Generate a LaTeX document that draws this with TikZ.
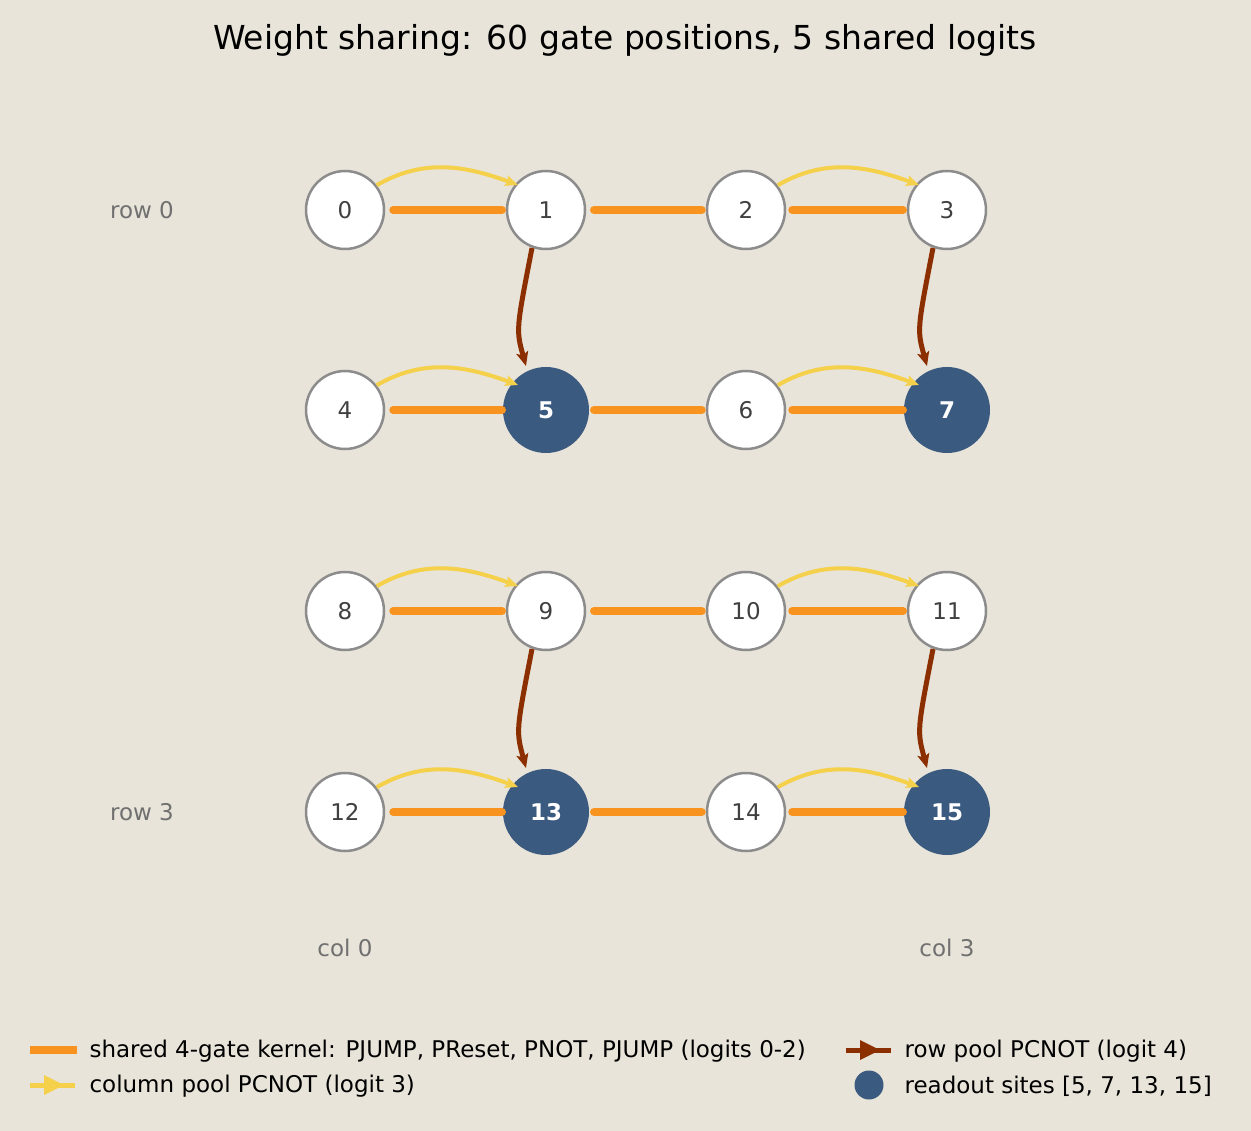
\documentclass[tikz,border=0pt]{standalone}
\usepackage{fontspec}
\setmainfont{DejaVu Sans}
\usetikzlibrary{arrows.meta}
\definecolor{bg}{HTML}{E8E4D9}
\definecolor{kern}{HTML}{F7931E}
\definecolor{colp}{HTML}{F5D04A}
\definecolor{rowp}{HTML}{8B2E00}
\definecolor{ro}{HTML}{3B5A80}
\definecolor{ring}{HTML}{8C8C8C}
\definecolor{lab}{HTML}{707070}
\begin{document}
\begin{tikzpicture}[x=1pt,y=-1pt,
  site/.style={circle,draw=ring,line width=2.5pt,fill=white,minimum size=78pt,inner sep=0pt,font=\fontsize{23}{27}\selectfont,text=black!75},
  rsite/.style={circle,fill=ro,minimum size=86pt,inner sep=0pt,font=\fontsize{23}{27}\selectfont\bfseries,text=white},
  kl/.style={kern,line width=8pt,line cap=round},
  cl/.style={colp,line width=4pt,-{Stealth[length=13pt,width=11pt,inset=3pt]}},
  rl/.style={rowp,line width=5pt,-{Stealth[length=14pt,width=12pt,inset=3pt]}},
  axl/.style={text=lab,font=\fontsize{23}{27}\selectfont},
  lg/.style={anchor=west,font=\fontsize{23}{27}\selectfont}]
\fill[bg] (0,0) rectangle (1251,1131);
\useasboundingbox (0,0) rectangle (1251,1131);
\node[font=\fontsize{33}{38}\selectfont] (title) at (625,40) {Weight sharing: 60 gate positions, 5 shared logits};
\foreach \r/\y in {0/210,1/410,2/611,3/812}{
  \foreach \c/\x in {0/345,1/546,2/746,3/947}{
    \pgfmathtruncatemacro\n{4*\r+\c}
    \ifodd\r \ifodd\c \node[rsite] (n\n) at (\x,\y) {\n};\else\node[site] (n\n) at (\x,\y) {\n};\fi
    \else \node[site] (n\n) at (\x,\y) {\n};\fi
  }}
\foreach \r in {0,1,2,3}{
  \pgfmathtruncatemacro\a{4*\r}\pgfmathtruncatemacro\b{4*\r+1}
  \pgfmathtruncatemacro\cc{4*\r+2}\pgfmathtruncatemacro\d{4*\r+3}
  \draw[kl] ([xshift=8pt]n\a.center-|n\a.east) -- ([xshift=-44pt]n\b.center);
  \draw[kl] ([xshift=48pt]n\b.center) -- ([xshift=-4pt]n\cc.west);
  \draw[kl] ([xshift=6pt]n\cc.east) -- ([xshift=-44pt]n\d.center);
  \draw[cl] (n\a.38) to[out=30,in=160] ([xshift=-28pt,yshift=25pt]n\b.center);
  \draw[cl] (n\cc.38) to[out=30,in=160] ([xshift=-28pt,yshift=25pt]n\d.center);
}
\foreach \s/\t in {1/5,3/7,9/13,11/15}{
  \draw[rl] ([xshift=-14pt,yshift=-38pt]n\s.center) .. controls ([xshift=-30pt,yshift=-120pt]n\s.center) .. ([xshift=-20pt,yshift=44pt]n\t.center);
}
\node[axl] (r0) at (142,210) {row 0};
\node[axl] (r3) at (142,812) {row 3};
\node[axl] (c0) at (345,948) {col 0};
\node[axl] (c3) at (947,948) {col 3};
% legend
\coordinate (la1) at (30,1050); \coordinate (lb1) at (77,1050);
\draw[kern,line width=8pt] (la1) -- (lb1);
\node[lg] (t1) at (86,1051) {shared 4-gate kernel: PJUMP, PReset, PNOT, PJUMP (logits 0-2)};
\coordinate (la2) at (30,1085); \coordinate (lb2) at (75,1085);
\draw[colp,line width=5pt] (la2) -- (lb2);
\fill[colp] (44,1075) -- (64,1085) -- (44,1095) -- cycle;
\node[lg] (t2) at (86,1086) {column pool PCNOT (logit 3)};
\coordinate (la3) at (846,1050); \coordinate (lb3) at (891,1050);
\draw[rowp,line width=5pt] (la3) -- (lb3);
\fill[rowp] (860,1040) -- (880,1050) -- (860,1060) -- cycle;
\node[lg] (t3) at (901,1051) {row pool PCNOT (logit 4)};
\node[circle,fill=ro,minimum size=29pt,inner sep=0pt] (ld) at (869,1085) {};
\node[lg] (t4) at (901,1086) {readout sites [5, 7, 13, 15]};
\end{tikzpicture}
\end{document}
